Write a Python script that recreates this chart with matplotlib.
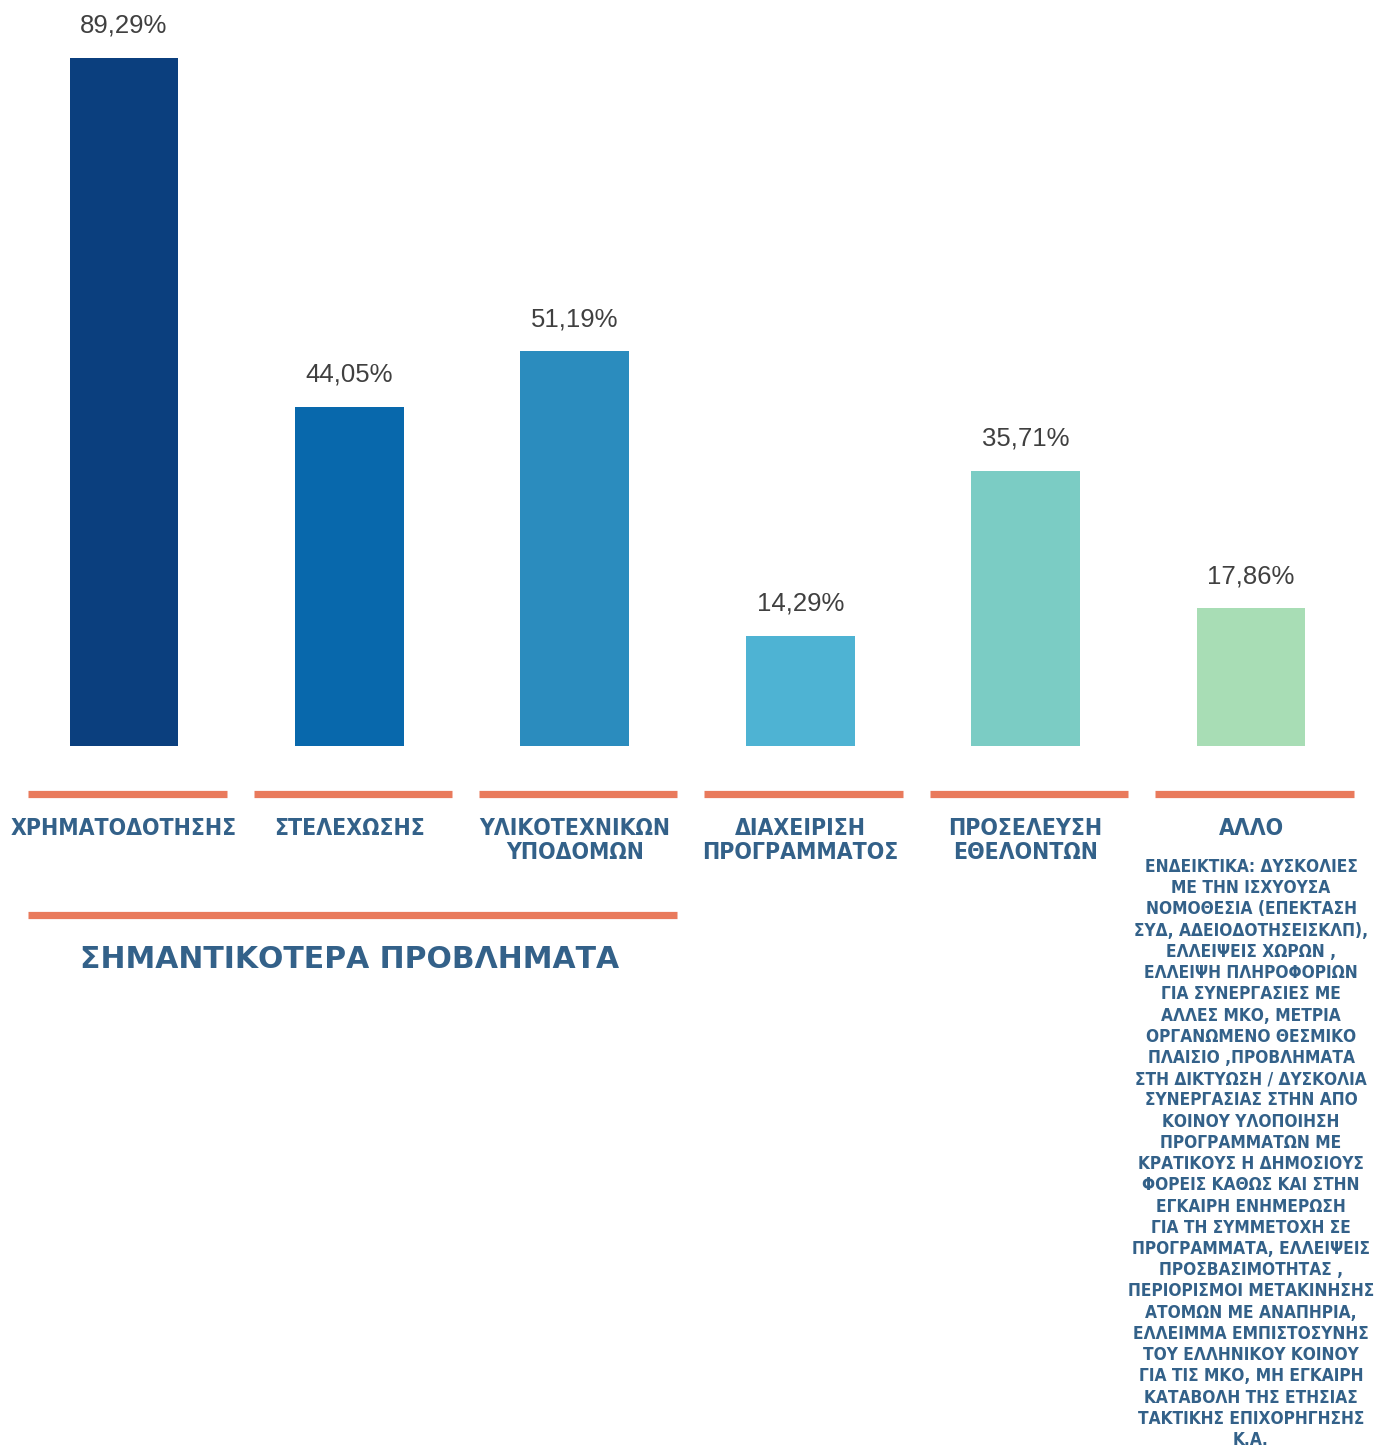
import matplotlib
matplotlib.use("Agg")
import matplotlib.pyplot as plt
from matplotlib.transforms import blended_transform_factory

# survey results: most important problems (% of answers)
categories = ["ΧΡΗΜΑΤΟΔΟΤΗΣΗΣ", "ΣΤΕΛΕΧΩΣΗΣ", "ΥΛΙΚΟΤΕΧΝΙΚΩΝ\nΥΠΟΔΟΜΩΝ",
              "ΔΙΑΧΕΙΡΙΣΗ\nΠΡΟΓΡΑΜΜΑΤΟΣ", "ΠΡΟΣΕΛΕΥΣΗ\nΕΘΕΛΟΝΤΩΝ", "ΑΛΛΟ"]
values = [89.29, 44.05, 51.19, 14.29, 35.71, 17.86]
colors = ["#0b3f7e", "#0868ac", "#2b8cbe", "#4eb3d3", "#7bccc4", "#a8ddb5"]
title = "ΣΗΜΑΝΤΙΚΟΤΕΡΑ ΠΡΟΒΛΗΜΑΤΑ"
other_note = [
    "ΕΝΔΕΙΚΤΙΚΑ: ΔΥΣΚΟΛΙΕΣ",
    "ΜΕ ΤΗΝ ΙΣΧΥΟΥΣΑ",
    "ΝΟΜΟΘΕΣΙΑ (ΕΠΕΚΤΑΣΗ",
    "ΣΥΔ, ΑΔΕΙΟΔΟΤΗΣΕΙΣΚΛΠ),",
    "ΕΛΛΕΙΨΕΙΣ ΧΩΡΩΝ ,",
    "ΕΛΛΕΙΨΗ ΠΛΗΡΟΦΟΡΙΩΝ",
    "ΓΙΑ ΣΥΝΕΡΓΑΣΙΕΣ ΜΕ",
    "ΑΛΛΕΣ ΜΚΟ, ΜΕΤΡΙΑ",
    "ΟΡΓΑΝΩΜΕΝΟ ΘΕΣΜΙΚΟ",
    "ΠΛΑΙΣΙΟ ,ΠΡΟΒΛΗΜΑΤΑ",
    "ΣΤΗ ΔΙΚΤΥΩΣΗ / ΔΥΣΚΟΛΙΑ",
    "ΣΥΝΕΡΓΑΣΙΑΣ ΣΤΗΝ ΑΠΟ",
    "ΚΟΙΝΟΥ ΥΛΟΠΟΙΗΣΗ",
    "ΠΡΟΓΡΑΜΜΑΤΩΝ ΜΕ",
    "ΚΡΑΤΙΚΟΥΣ Η ΔΗΜΟΣΙΟΥΣ",
    "ΦΟΡΕΙΣ ΚΑΘΩΣ ΚΑΙ ΣΤΗΝ",
    "ΕΓΚΑΙΡΗ ΕΝΗΜΕΡΩΣΗ",
    "ΓΙΑ ΤΗ ΣΥΜΜΕΤΟΧΗ ΣΕ",
    "ΠΡΟΓΡΑΜΜΑΤΑ, ΕΛΛΕΙΨΕΙΣ",
    "ΠΡΟΣΒΑΣΙΜΟΤΗΤΑΣ ,",
    "ΠΕΡΙΟΡΙΣΜΟΙ ΜΕΤΑΚΙΝΗΣΗΣ",
    "ΑΤΟΜΩΝ ΜΕ ΑΝΑΠΗΡΙΑ,",
    "ΕΛΛΕΙΜΜΑ ΕΜΠΙΣΤΟΣΥΝΗΣ",
    "ΤΟΥ ΕΛΛΗΝΙΚΟΥ ΚΟΙΝΟΥ",
    "ΓΙΑ ΤΙΣ ΜΚΟ, ΜΗ ΕΓΚΑΙΡΗ",
    "ΚΑΤΑΒΟΛΗ ΤΗΣ ΕΤΗΣΙΑΣ",
    "ΤΑΚΤΙΚΗΣ ΕΠΙΧΟΡΗΓΗΣΗΣ",
    "Κ.Α.",
]

W, H = 1378, 1454
label_blue = "#336189"
accent = "#e97a5c"

fig = plt.figure(figsize=(W / 100, H / 100), dpi=100)
ax = fig.add_axes([11.25 / W, 1 - 746 / H, 1352.5 / W, 746 / H])
x = range(len(values))
ax.bar(x, values, width=0.483, color=colors)
ax.set_xlim(-0.5, len(values) - 0.5)
ax.set_ylim(0, 96.8)
ax.axis("off")

for i, v in enumerate(values):
    ax.annotate(f"{v:.2f}%".replace(".", ","), (i, v), xytext=(0, 18),
                textcoords="offset points", ha="center", va="baseline",
                fontsize=18.5, color="#404040", family="Liberation Sans")

# x in data units, y in figure fraction (measured from the top)
tr = blended_transform_factory(ax.transData, fig.transFigure)
def fy(px):
    return 1 - px / H

half = 0.44
shift = 0.015
for i, cat in enumerate(categories):
    ax.plot([i - half + shift, i + half + shift], [fy(794)] * 2, transform=tr,
            color=accent, lw=5.2, solid_capstyle="butt", clip_on=False)
    ax.text(i, fy(817), cat, transform=tr, ha="center", va="top",
            multialignment="center", linespacing=1.08, fontsize=16.5,
            fontweight="bold", fontstretch="condensed", family="DejaVu Sans",
            color=label_blue)

ax.text(len(values) - 1, fy(858), "\n".join(other_note), transform=tr,
        ha="center", va="top", multialignment="center", linespacing=1.23,
        fontsize=12.4, fontweight="bold", fontstretch="condensed",
        family="DejaVu Sans", color=label_blue)

# group bracket for the first three categories
ax.plot([-half + shift, 2 + half + shift], [fy(915)] * 2, transform=tr,
        color=accent, lw=5.2, solid_capstyle="butt", clip_on=False)
ax.text(1, fy(959), title, transform=tr, ha="center", va="center",
        fontsize=21.5, fontweight="bold", family="DejaVu Sans", color=label_blue)

fig.savefig("out.png", dpi=100)
